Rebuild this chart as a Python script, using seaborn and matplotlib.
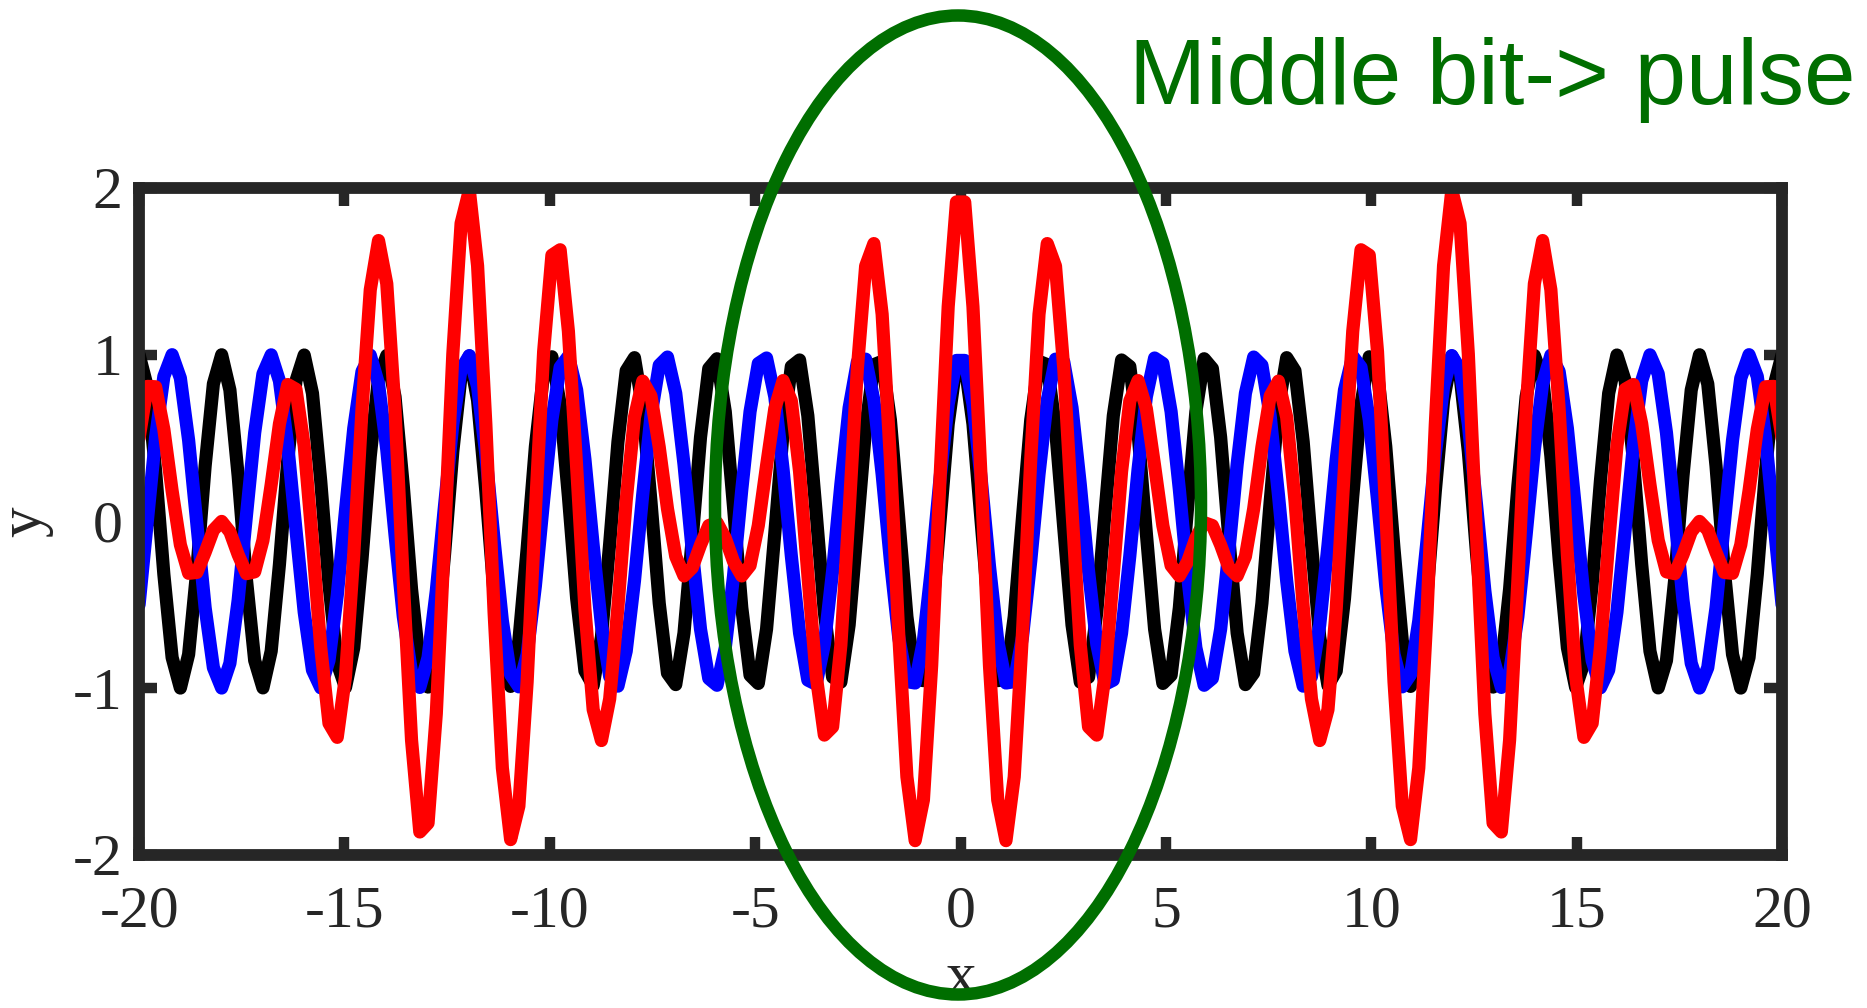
import numpy as np
import pandas as pd
import matplotlib
matplotlib.use("Agg")
import matplotlib.pyplot as plt
from matplotlib.patches import Ellipse
import seaborn as sns

# ---- data (two unit cosines and their sum) ----
x_min, x_max, n_samples = -20, 20, 200
k_black = np.pi            # period 2
k_blue = 5 * np.pi / 6     # period 2.4 (beat period 12)
x_vals = np.linspace(x_min, x_max, n_samples)
black_y = np.cos(k_black * x_vals)
blue_y = np.cos(k_blue * x_vals)
red_y = black_y + blue_y

x_ticks = [-20, -15, -10, -5, 0, 5, 10, 15, 20]
x_ticklabels = ["-20", "-15", "-10", "-5", "0", "5", "10", "15", "20"]
y_ticks = [-2, -1, 0, 1, 2]
y_ticklabels = ["-2", "-1", "0", "1", "2"]
annotation = "Middle bit-> pulse"

df = pd.DataFrame({"x": x_vals, "black": black_y, "blue": blue_y, "red": red_y})

sns.set_theme(style="white")
plt.rcParams["font.family"] = ["Liberation Serif", "DejaVu Serif"]

fig = plt.figure(figsize=(18.67, 10.08), dpi=100)
ax = fig.add_axes([0.0745, 0.152, 0.88, 0.6615])

lw = 9.5
sns.lineplot(data=df, x="x", y="black", ax=ax, color="#000000", linewidth=lw)
sns.lineplot(data=df, x="x", y="blue", ax=ax, color="#0000FF", linewidth=lw)
sns.lineplot(data=df, x="x", y="red", ax=ax, color="#FF0000", linewidth=lw)

ax.set_xlim(x_min, x_max)
ax.set_ylim(-2, 2)
ax.set_xticks(x_ticks)
ax.set_xticklabels(x_ticklabels)
ax.set_yticks(y_ticks)
ax.set_yticklabels(y_ticklabels)

frame_col = "#262626"
for sp in ax.spines.values():
    sp.set_visible(True)
    sp.set_color(frame_col)
    sp.set_linewidth(8.5)
ax.tick_params(axis="both", which="major", direction="in", length=13, width=7.5,
               color=frame_col, labelcolor=frame_col, labelsize=43,
               top=True, right=True, bottom=True, left=True)
ax.tick_params(axis="x", pad=22)
ax.tick_params(axis="y", pad=12)
ax.set_xlabel("x", fontsize=44, color=frame_col)
ax.xaxis.set_label_coords(0.5, -0.145)
ax.set_ylabel("y", fontsize=44, color=frame_col, labelpad=14)
ax.grid(False)

# green ellipse around the middle pulse (figure coordinates)
ell = Ellipse((958 / 1867, 1 - 505 / 1008), 486 / 1867, 979 / 1008,
              transform=fig.transFigure, fill=False, edgecolor="#006E00",
              linewidth=9, zorder=10)
fig.patches.append(ell)

fig.text(1129 / 1867, 1 - 104 / 1008, annotation, color="#006E00",
         fontsize=66.5, family=["Liberation Sans", "DejaVu Sans"],
         ha="left", va="baseline")

fig.savefig("out.png", dpi=100, facecolor="white")
